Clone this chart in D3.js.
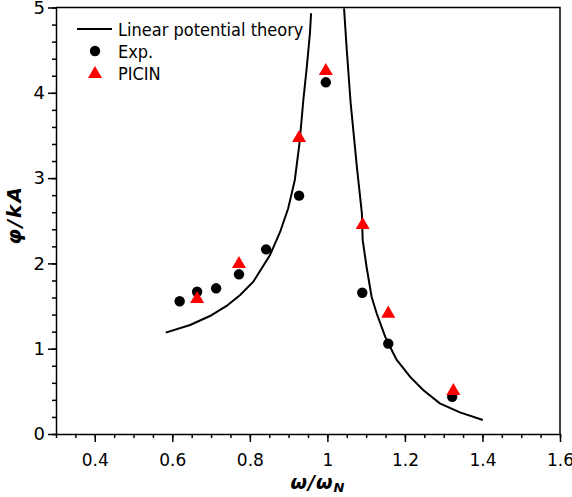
<!DOCTYPE html>
<html>
<head>
<meta charset="utf-8">
<script src="https://cdn.jsdelivr.net/npm/d3@7"></script>
<style>
  body { margin: 0; background: #fff; }
  .axis text { font-family: "DejaVu Sans", Verdana, sans-serif; font-size: 17px; fill: #000; }
  .axis path, .axis line { stroke: #000; stroke-width: 1.5; }
  .legend text { font-family: "DejaVu Sans Condensed", "DejaVu Sans", sans-serif; font-size: 18px; fill: #000; }
</style>
</head>
<body>
<div id="chartdiv"></div>
<script>
// theory curve (two branches, the peak runs off the top of the plot)
var theoryLeftX = [0.583, 0.646, 0.697, 0.740, 0.775, 0.809, 0.852, 0.878, 0.899, 0.916, 0.928, 0.938, 0.947, 0.955, 0.958];
var theoryLeftY = [1.188, 1.278, 1.383, 1.501, 1.630, 1.785, 2.098, 2.368, 2.646, 2.978, 3.408, 3.916, 4.306, 4.698, 4.932];
var theoryRightX = [1.043, 1.050, 1.060, 1.076, 1.089, 1.091, 1.101, 1.114, 1.127, 1.149, 1.170, 1.179, 1.213, 1.247, 1.290, 1.342, 1.401];
var theoryRightY = [4.990, 4.502, 3.880, 3.134, 2.587, 2.274, 1.961, 1.610, 1.415, 1.141, 0.946, 0.868, 0.672, 0.516, 0.360, 0.254, 0.164];

// experiment
var expX = [0.619, 0.664, 0.713, 0.772, 0.842, 0.927, 0.996, 1.090, 1.157, 1.322];
var expY = [1.556, 1.668, 1.708, 1.872, 2.165, 2.794, 4.123, 1.656, 1.059, 0.437];

// PICIN
var picinX = [0.664, 0.772, 0.927, 0.996, 1.091, 1.157, 1.325];
var picinY = [1.594, 2.005, 3.482, 4.267, 2.462, 1.422, 0.516];

var xTicks = [0.4, 0.6, 0.8, 1, 1.2, 1.4, 1.6];
var yTicks = [0, 1, 2, 3, 4, 5];
var legendLabels = ["Linear potential theory", "Exp.", "PICIN"];

var W = 572, H = 497;
var plotLeft = 56, plotRight = 560, plotTop = 7.5, plotBottom = 434;

var svg = d3.select("#chartdiv").append("svg")
    .attr("width", W)
    .attr("height", H);

var xScale = d3.scaleLinear().domain([0.3, 1.6]).range([plotLeft, plotRight]);
var yScale = d3.scaleLinear().domain([0, 5]).range([plotBottom, plotTop]);

// clip for the curve
svg.append("clipPath")
    .attr("id", "plot-area")
    .append("rect")
    .attr("x", plotLeft)
    .attr("y", plotTop)
    .attr("width", plotRight - plotLeft)
    .attr("height", plotBottom - plotTop);

// minor ticks
svg.append("g")
    .attr("class", "axis")
    .attr("transform", "translate(0," + plotBottom + ")")
    .call(d3.axisBottom(xScale).tickValues(d3.range(0.3, 1.6001, 0.05)).tickSize(4).tickFormat(""))
    .select(".domain").remove();
svg.append("g")
    .attr("class", "axis")
    .attr("transform", "translate(" + plotLeft + ",0)")
    .call(d3.axisLeft(yScale).tickValues(d3.range(0, 5.0001, 0.2)).tickSize(4).tickFormat(""))
    .select(".domain").remove();

// major ticks
svg.append("g")
    .attr("class", "axis")
    .attr("transform", "translate(0," + plotBottom + ")")
    .call(d3.axisBottom(xScale).tickValues(xTicks).tickSize(8).tickPadding(12).tickSizeOuter(0)
        .tickFormat(function(d) { return String(d); }));
svg.append("g")
    .attr("class", "axis")
    .attr("transform", "translate(" + plotLeft + ",0)")
    .call(d3.axisLeft(yScale).tickValues(yTicks).tickSize(8).tickPadding(3).tickSizeOuter(0)
        .tickFormat(function(d) { return String(d); }))
    .selectAll("text").style("font-size", "18px");

// frame top + right
svg.append("path")
    .attr("d", "M" + plotLeft + "," + plotTop + "H" + plotRight + "V" + plotBottom)
    .attr("fill", "none")
    .attr("stroke", "#000")
    .attr("stroke-width", 1.5);

var line = d3.line()
    .x(function(d) { return xScale(d[0]); })
    .y(function(d) { return yScale(d[1]); });

[[theoryLeftX, theoryLeftY], [theoryRightX, theoryRightY]].forEach(function(b) {
    svg.append("path")
        .datum(d3.zip(b[0], b[1]))
        .attr("clip-path", "url(#plot-area)")
        .attr("fill", "none")
        .attr("stroke", "#000")
        .attr("stroke-width", 2)
        .attr("d", line);
});

var tri = d3.symbol().type(d3.symbolTriangle).size(85);

svg.append("g")
    .selectAll("circle")
    .data(d3.zip(expX, expY))
    .enter()
    .append("circle")
    .attr("cx", function(d) { return xScale(d[0]); })
    .attr("cy", function(d) { return yScale(d[1]); })
    .attr("r", 5.2)
    .attr("fill", "#000");

svg.append("g")
    .selectAll("path")
    .data(d3.zip(picinX, picinY))
    .enter()
    .append("path")
    .attr("d", tri)
    .attr("transform", function(d) { return "translate(" + xScale(d[0]) + "," + (yScale(d[1]) + 1) + ")"; })
    .attr("fill", "#ff0000");

// legend
var lg = svg.append("g").attr("class", "legend");
lg.append("line")
    .attr("x1", 77).attr("x2", 112)
    .attr("y1", 29).attr("y2", 29)
    .attr("stroke", "#000").attr("stroke-width", 2);
lg.append("circle").attr("cx", 95).attr("cy", 51).attr("r", 5.2).attr("fill", "#000");
lg.append("path").attr("d", tri).attr("transform", "translate(95,74)").attr("fill", "#ff0000");
lg.selectAll("text")
    .data(legendLabels)
    .enter()
    .append("text")
    .attr("x", 118)
    .attr("y", function(d, i) { return 36 + i * 22; })
    .text(function(d) { return d; });

// axis titles
var xt = svg.append("text")
    .attr("x", 318)
    .attr("y", 489)
    .attr("text-anchor", "middle")
    .style("font-family", "DejaVu Sans, sans-serif")
    .style("font-size", "19px")
    .style("letter-spacing", "1px")
    .style("font-weight", "bold")
    .style("font-style", "italic");
xt.append("tspan").text("\u03c9/\u03c9");
xt.append("tspan").attr("dy", 3).style("font-size", "13px").text("N");

svg.append("text")
    .attr("transform", "translate(21,215) rotate(-90)")
    .attr("text-anchor", "middle")
    .style("font-family", "DejaVu Sans, sans-serif")
    .style("font-size", "20px")
    .style("letter-spacing", "2px")
    .style("font-weight", "bold")
    .style("font-style", "italic")
    .text("\u03c6/kA");
</script>
</body>
</html>
